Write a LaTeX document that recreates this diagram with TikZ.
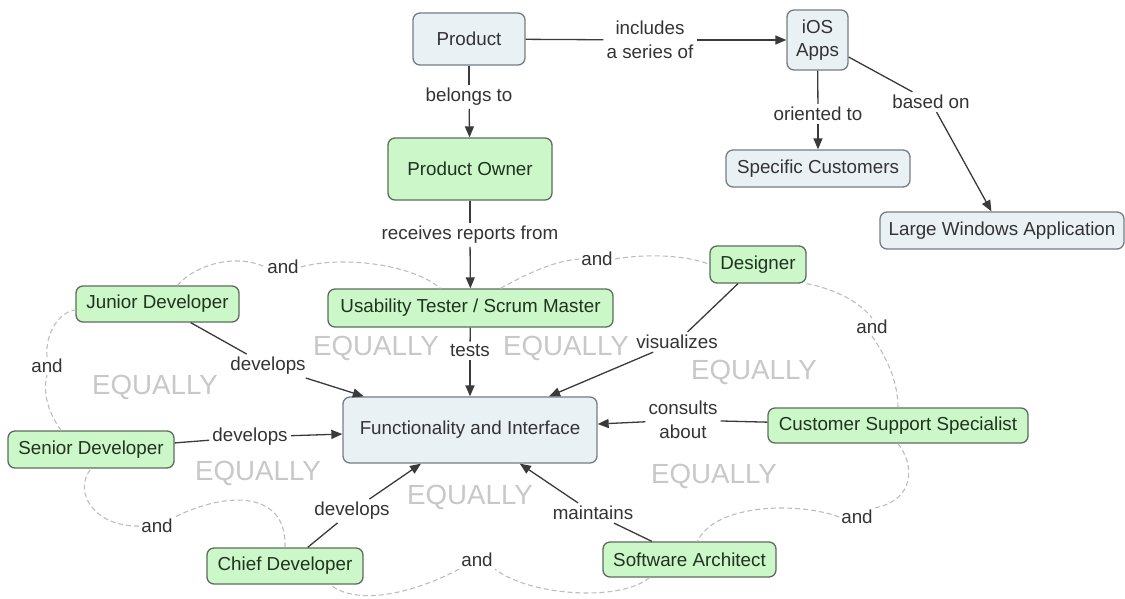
\documentclass[tikz,border=0pt]{standalone}
\usepackage{fontspec}
\setmainfont{Liberation Sans}
\usetikzlibrary{arrows.meta}

\definecolor{conceptgreen}{HTML}{CCF7C8}
\definecolor{conceptgreenline}{HTML}{5B6E5B}
\definecolor{conceptblue}{HTML}{EAF1F4}
\definecolor{conceptblueline}{HTML}{737E84}
\definecolor{linkgrey}{HTML}{3A3A3A}
\definecolor{dashgrey}{HTML}{BDBDBD}
\definecolor{equalgrey}{HTML}{C8C8C8}
\definecolor{greentext}{HTML}{1F331F}
\definecolor{bluetext}{HTML}{333333}

\begin{document}
\begin{tikzpicture}[x=1pt,y=-1pt,
  every node/.style={font=\fontsize{18.8}{23.5}\selectfont, inner sep=2pt},
  concept/.style={draw, rounded corners=7pt, line width=1.3pt, inner sep=0pt, align=center},
  greenbox/.style={concept, fill=conceptgreen, draw=conceptgreenline, text=greentext},
  bluebox/.style={concept, fill=conceptblue, draw=conceptblueline, text=bluetext},
  linklabel/.style={text=bluetext, align=center, inner sep=3pt},
  andlabel/.style={text=bluetext, inner sep=2pt},
  equally/.style={text=equalgrey, font=\fontsize{27.7}{30}\selectfont, inner sep=0pt},
  link/.style={draw=linkgrey, line width=1.3pt},
  linkarrow/.style={link, -{Triangle[length=11pt,width=9pt]}},
  anddash/.style={draw=dashgrey, line width=1.1pt, dash pattern=on 5pt off 3pt}
]
\useasboundingbox (0,0) rectangle (1125,598);

% concepts
\node[bluebox, minimum width=112pt, minimum height=52pt] (prod) at (469,39) {Product};
\node[bluebox, minimum width=61pt, minimum height=60pt] (ios) at (817.5,40) {iOS\\Apps};
\node[greenbox, minimum width=164pt, minimum height=62pt] (po) at (470,169) {Product Owner};
\node[bluebox, minimum width=184pt, minimum height=37pt] (sc) at (818,168.5) {Specific Customers};
\node[bluebox, minimum width=244pt, minimum height=37pt] (lw) at (1002,230.5) {Large Windows Application};
\node[greenbox, minimum width=96pt, minimum height=37pt] (des) at (758,264.5) {Designer};
\node[greenbox, minimum width=163pt, minimum height=36pt] (jr) at (157.5,304) {Junior Developer};
\node[greenbox, minimum width=285pt, minimum height=38pt] (ut) at (470.5,308) {Usability Tester / Scrum Master};
\node[bluebox, minimum width=254pt, minimum height=66pt] (fi) at (470,430) {Functionality and Interface};
\node[greenbox, minimum width=260pt, minimum height=35pt] (css) at (898,425.5) {Customer Support Specialist};
\node[greenbox, minimum width=166pt, minimum height=37pt] (sen) at (91,449.5) {Senior Developer};
\node[greenbox, minimum width=156pt, minimum height=36pt] (chief) at (285,566) {Chief Developer};
\node[greenbox, minimum width=173pt, minimum height=35pt] (sa) at (689.5,559.5) {Software Architect};

% linking phrases
\node[linklabel] (lincl) at (650,40) {includes\\a series of};
\node[linklabel] (lbel) at (469,97) {belongs to};
\node[linklabel] (lorient) at (818,114) {oriented to};
\node[linklabel] (lbased) at (931,102) {based on};
\node[linklabel] (lrecv) at (470,235) {receives reports from};
\node[linklabel] (ltests) at (470,351) {tests};
\node[linklabel] (lvis) at (677,342) {visualizes};
\node[linklabel] (ldevj) at (268,366) {develops};
\node[linklabel] (ldevs) at (250,437) {develops};
\node[linklabel] (ldevc) at (352,511) {develops};
\node[linklabel] (lcons) at (683,420) {consults\\about};
\node[linklabel] (lmaint) at (593,513) {maintains};

% "and" phrases of the dashed ring
\node[andlabel] (a1) at (283,267) {and};
\node[andlabel] (a2) at (597,259) {and};
\node[andlabel] (a3) at (872,327) {and};
\node[andlabel] (a4) at (857,517) {and};
\node[andlabel] (a5) at (477,560) {and};
\node[andlabel] (a6) at (157,526) {and};
\node[andlabel] (a7) at (47,366) {and};

% EQUALLY markers
\node[equally] (e1) at (376,348) {EQUALLY};
\node[equally] (e2) at (566,348) {EQUALLY};
\node[equally] (e3) at (155,387) {EQUALLY};
\node[equally] (e4) at (754,372) {EQUALLY};
\node[equally] (e5) at (258,473) {EQUALLY};
\node[equally] (e6) at (470,497) {EQUALLY};
\node[equally] (e7) at (714,476) {EQUALLY};

% dashed ring of team members
\draw[anddash] ([xshift=20pt]jr.north) .. controls (195,265) and (235,253) .. (a1.west);
\draw[anddash] (a1.east) .. controls (340,256) and (410,263) .. ([xshift=-30pt]ut.north);
\draw[anddash] ([xshift=30pt]ut.north) .. controls (530,272) and (555,261) .. (a2.west);
\draw[anddash] (a2.east) .. controls (650,253) and (690,256) .. (des.west);
\draw[anddash] (des.south east) .. controls (840,290) and (862,305) .. (a3.north);
\draw[anddash] (a3.south) .. controls (885,355) and (898,380) .. (css.north);
\draw[anddash] (css.south) .. controls (915,465) and (915,500) .. (a4.north east);
\draw[anddash] (a4.west) .. controls (800,502) and (715,503) .. ([xshift=8pt]sa.north);
\draw[anddash] ([xshift=-40pt]sa.south) .. controls (620,602) and (530,596) .. (a5.south east);
\draw[anddash] (a5.south west) .. controls (420,590) and (360,608) .. ([xshift=45pt]chief.south);
\draw[anddash] (chief.north) .. controls (287,492) and (230,490) .. (a6.north east);
\draw[anddash] (a6.west) .. controls (95,527) and (72,492) .. (sen.south);
\draw[anddash] ([xshift=-30pt]sen.north) .. controls (50,415) and (42,395) .. (a7.south);
\draw[anddash] (a7.north) .. controls (45,335) and (58,312) .. ([yshift=-6pt]jr.west);

% links
\draw[link] (prod) -- (lincl);
\draw[linkarrow] (lincl) -- (ios);
\draw[link] (prod) -- (lbel);
\draw[linkarrow] (lbel) -- (po);
\draw[link] (ios) -- (lorient);
\draw[linkarrow] (lorient) -- (sc);
\draw[link] (ios) -- (lbased);
\draw[linkarrow] (lbased) -- (lw);
\draw[link] (po) -- (lrecv);
\draw[linkarrow] (lrecv) -- (ut);
\draw[link] (ut) -- (ltests);
\draw[linkarrow] (ltests) -- (fi);
\draw[link] (des) -- (lvis);
\draw[linkarrow] (lvis) -- (fi);
\draw[link] (jr) -- (ldevj);
\draw[linkarrow] (ldevj) -- (fi);
\draw[link] (sen) -- (ldevs);
\draw[linkarrow] (ldevs) -- (fi);
\draw[link] (chief) -- (ldevc);
\draw[linkarrow] (ldevc) -- (fi);
\draw[link] (css) -- (lcons);
\draw[linkarrow] (lcons) -- (fi);
\draw[link] (sa) -- (lmaint);
\draw[linkarrow] (lmaint) -- (fi);
\end{tikzpicture}
\end{document}
